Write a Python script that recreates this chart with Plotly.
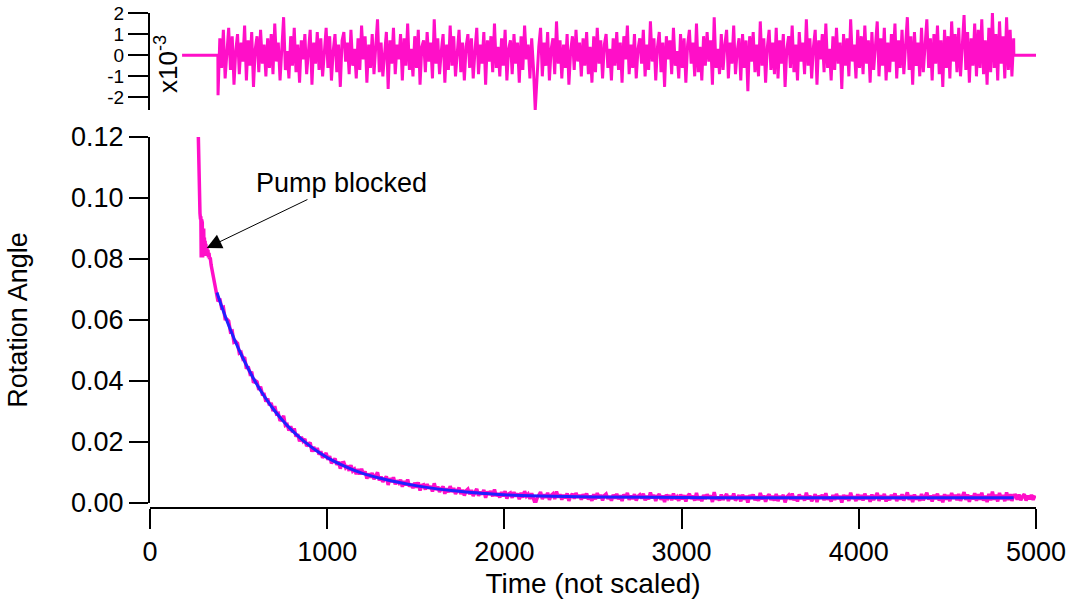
import numpy as np
import plotly.graph_objects as go

# ---------------- data ----------------
# raw signal before the fit window (pump blocked transient)
pre_x = [271, 273, 276, 279, 282, 285, 287, 289, 291, 293, 295, 297, 299, 301, 303,
         305, 307, 309, 311, 313, 315, 318, 321, 324, 327, 330, 333, 336,
         340, 345, 350, 355, 360, 365, 370, 375]
pre_y = [0.125, 0.115, 0.105, 0.099, 0.095, 0.093, 0.094, 0.0805, 0.093, 0.081, 0.092,
         0.0805, 0.089, 0.081, 0.090, 0.0815, 0.087, 0.081, 0.086, 0.082, 0.085,
         0.0815, 0.084, 0.081, 0.083, 0.0805, 0.082, 0.080,
         0.0805, 0.078, 0.0765, 0.0755, 0.074, 0.0725, 0.0715, 0.070]

# fitted decay curve (blue)
fit_x = [378, 400, 450, 500, 550, 600, 650, 700, 750, 800, 850, 900, 950, 1000, 1100, 1200,
         1300, 1400, 1500, 1600, 1700, 1800, 1900, 2000, 2200, 2500, 3000, 3500, 4874]
fit_y = [0.0690, 0.0652, 0.0574, 0.0505, 0.0445, 0.0392, 0.0346, 0.0305, 0.0270, 0.0239,
         0.0212, 0.0188, 0.0167, 0.0149, 0.0120, 0.0097, 0.0081, 0.0068, 0.0057, 0.0048,
         0.0041, 0.0035, 0.0031, 0.0027, 0.0023, 0.0020, 0.0018, 0.0017, 0.0017]

# residuals (units of 1e-3), one every 10 time units starting at 384
res_start = 384
res_step = 10
resid = [
    -1.9, 0.8, -0.6, 1.2, -1.1, 0.4, 1.3, -0.7, 0.9, -1.4, 0.2, 1.0, -0.9, 0.6, -0.3,
    1.4, -1.2, 0.7, -0.5, 1.1, -1.5, 0.3, 0.9, -0.8, 1.2, -0.4, 0.5, -1.0, 0.8, -0.6,
    1.0, -0.9, 1.5, -0.3, 0.6, -1.2, 0.4, 1.8, -0.7, 0.2, -1.1, 0.9, -0.5, 1.3, -0.8,
    0.5, -1.3, 0.7, -0.2, 1.0, -0.9, 0.3, 1.2, -1.4, 0.6, -0.4, 1.1, -0.7, 0.8, -1.0,
    0.4, 1.3, -0.6, 0.9, -1.2, 0.2, 1.0, -0.8, 0.5, -1.5, 0.7, 1.1, -0.3, 0.6, -0.9,
    1.2, -0.5, 0.3, -1.1, 0.8, -0.7, 1.4, -0.2, 0.9, -1.3, 0.5, -0.6, 1.0, -0.9, 0.4,
    1.7, -0.8, 0.6, -1.0, 0.2, 1.1, -1.6, 0.7, -0.4, 1.3, -0.9, 0.5, -0.2, 1.0, -1.2,
    0.8, -0.5, 1.5, -0.7, 0.3, -1.0, 0.9, -0.6, 1.2, -1.4, 0.4, 0.7, -0.8, 1.1, -0.3,
    0.6, -1.1, 1.7, -0.4, 0.8, -0.9, 0.2, 1.0, -1.3, 0.5, -0.7, 1.4, -0.5, 0.9, -1.0,
    0.3, 1.2, -0.8, 0.6, -1.2, 0.4, 1.0, -0.6, 0.8, -1.1, 0.2, 1.3, -0.9, 0.5, -0.4,
    1.1, -1.4, 0.7, -0.3, 0.9, -0.8, 1.5, -0.6, 0.4, -1.0, 0.8, -0.5, 1.2, -1.2, 0.3,
    0.7, -0.9, 1.0, -0.4, 0.6, -1.3, 0.9, -0.7, 1.4, -0.2, 0.5, -1.1, 0.8, -0.6, -2.6,
    -0.8, 0.4, 1.3, -1.0, 0.6, -0.5, 1.1, -1.2, 0.3, 0.8, -0.9, 1.6, -0.4, 0.7, -1.1,
    0.5, -0.6, 1.0, -1.4, 0.2, 0.9, -0.7, 1.2, -0.3, 0.6, -1.0, 0.8, -0.5, 1.1, -0.9,
    0.4, -1.3, 0.9, -0.8, 1.3, -0.4, 0.7, -1.1, 0.5, 1.0, -0.6, 0.3, -1.2, 0.8, -0.5,
    1.1, -0.7, 0.6, -1.3, 0.9, -0.2, 1.4, -0.9, 0.5, -0.6, 1.0, -1.1, 0.3, 0.8, -0.4,
    1.2, -1.0, 0.5, -0.7, 1.6, -0.3, 0.8, -1.2, 0.4, 1.1, -0.8, 0.6, -1.5, 0.9, -0.2,
    0.7, -0.9, 1.3, -0.5, 0.2, -1.1, 1.0, -0.6, 0.8, -1.3, 0.5, 1.2, -0.4, 0.6, -1.0,
    1.5, -0.8, 0.4, -1.2, 0.9, -0.5, 1.1, -0.3, 0.7, -1.4, 1.8, -0.6, 0.3, -0.9, 1.0,
    -0.7, 0.5, 1.2, -1.1, 0.6, -0.4, 1.4, -0.9, 0.2, 0.8, -1.2, 1.0, -0.6, 0.7, -1.7,
    0.9, -0.3, 1.1, -0.8, 0.5, -1.0, 1.6, -0.5, 0.8, -1.3, 0.4, 1.2, -0.7, 0.6, -0.9,
    1.3, -1.1, 0.7, -0.4, 1.0, -1.5, 0.3, 0.9, -0.6, 1.4, -0.8, 0.5, -1.2, 1.1, -0.3,
    0.6, -0.9, 1.7, -0.5, 0.8, -1.1, 0.4, 1.2, -1.4, 0.7, -0.2, 1.0, -0.8, 1.5, -0.6,
    0.3, -1.2, 0.9, -0.7, 1.3, -0.4, 0.6, -1.6, 1.0, -0.5, 0.8, -1.0, 1.7, -0.3, 0.5,
    -1.1, 1.2, -0.6, 0.9, -0.9, 1.4, -0.4, 0.7, -1.3, 1.1, -0.7, 0.4, 1.6, -1.0, 0.8,
    -0.5, 1.3, -1.2, 0.6, -0.8, 1.0, -0.3, 1.5, -1.1, 0.7, -0.6, 1.2, -0.9, 0.4, 1.8,
    -0.7, 0.9, -1.4, 1.1, -0.5, 0.6, -1.0, 1.3, -0.8, 0.5, 1.7, -0.6, 0.8, -1.2, 1.0,
    -0.4, 1.4, -0.9, 0.7, -1.5, 1.2, -0.6, 0.9, -1.1, 1.6, -0.3, 1.0, -0.8, 1.3, -1.0,
    0.6, 1.9, -0.7, 1.1, -1.3, 0.8, -0.5, 1.5, -1.0, 1.2, -0.6, 1.7, -0.9, 0.7, -1.4,
    1.3, -0.8, 2.0, -0.6, 1.0, -1.2, 1.6, -0.4, 0.9, -1.1, 1.8, -0.7, 1.2, -1.0, 0.8,
]

# raw signal after the fit window (noise around the baseline, units of 1e-3)
tail_x0 = 4884
tail_resid = [0.9, -0.6, 1.1, -0.8, 0.5, 1.2, -0.9, 0.7, -0.5, 1.0, -0.7, 0.8]

# residual panel flat segments
res_flat_start = 181
res_flat_end = 5000

# axis ticks
x_ticks = [0, 1000, 2000, 3000, 4000, 5000]
y_ticks = [0.00, 0.02, 0.04, 0.06, 0.08, 0.10, 0.12]
y_ticklabels = ["0.00", "0.02", "0.04", "0.06", "0.08", "0.10", "0.12"]
r_ticks = [-2, -1, 0, 1, 2]
r_ticklabels = ["-2", "-1", "0", "1", "2"]

# ---------------- build series ----------------
res_x = res_start + res_step * np.arange(len(resid))
res_v = np.array(resid)
fit_at_res = np.interp(res_x, fit_x, fit_y)
data_mid = fit_at_res + res_v * 1e-3
tail_x = tail_x0 + res_step * np.arange(len(tail_resid))
tail_y = fit_y[-1] + np.array(tail_resid) * 1e-3

main_x = list(pre_x) + list(res_x) + list(tail_x)
main_y = list(pre_y) + list(data_mid) + list(tail_y)

top_x = [res_flat_start, res_start - 1] + list(res_x) + [res_x[-1] + 1, res_flat_end]
top_y = [0, 0] + list(res_v) + [0, 0]

PINK = "#ff0fc8"
BLUE = "#2020ff"
FONT = "Liberation Sans, Arial, sans-serif"

fig = go.Figure()
fig.add_trace(go.Scatter(x=main_x, y=main_y, mode="lines",
                         line=dict(color=PINK, width=3.5), xaxis="x", yaxis="y",
                         showlegend=False, hoverinfo="skip"))
fig.add_trace(go.Scatter(x=fit_x, y=fit_y, mode="lines", line_shape="spline",
                         line=dict(color=BLUE, width=3), xaxis="x", yaxis="y",
                         showlegend=False, hoverinfo="skip"))
fig.add_trace(go.Scatter(x=top_x, y=top_y, mode="lines",
                         line=dict(color=PINK, width=3), xaxis="x", yaxis="y2",
                         showlegend=False, hoverinfo="skip"))

axis_common = dict(showgrid=False, zeroline=False, showline=True, linecolor="black",
                   linewidth=2, ticks="outside", tickcolor="black", tickwidth=2,
                   automargin=False)

fig.update_layout(
    width=1074, height=607,
    margin=dict(l=150, r=38, t=10, b=99),
    paper_bgcolor="white", plot_bgcolor="white",
    font=dict(family=FONT, color="black", size=27),
    xaxis=dict(range=[0, 5000], tickvals=x_ticks, ticklen=20,
               anchor="free", position=0,
               title=dict(text="Time (not scaled)", font=dict(size=28), standoff=6),
               tickfont=dict(size=27), **axis_common),
    yaxis=dict(range=[0, 0.12], domain=[0.01, 0.745], anchor="x",
               tickvals=y_ticks, ticktext=y_ticklabels, ticklen=19,
               title=dict(text="Rotation Angle", font=dict(size=27), standoff=36),
               tickfont=dict(size=27), **axis_common),
    yaxis2=dict(range=[-2.6, 2.0], domain=[0.799, 0.994], anchor="x",
                tickvals=r_ticks, ticktext=r_ticklabels, ticklen=20,
                tickfont=dict(size=19), **axis_common),
)

# "x10^-3" multiplier label of the residual panel
fig.add_annotation(xref="paper", yref="paper", x=0.0193, y=0.892,
                   xanchor="center", yanchor="middle",
                   text="x10<sup>-3</sup>", textangle=-90, showarrow=False,
                   font=dict(size=26, family=FONT, color="black"))

# arrow to the pump-blocked feature, with its label
fig.add_annotation(x=320, y=0.0836, xref="x", yref="y", text="Pump blocked",
                   showarrow=True, ax=135, ay=-65, axref="pixel", ayref="pixel",
                   arrowhead=2, arrowsize=3, arrowwidth=1, arrowcolor="black",
                   font=dict(size=27, family=FONT, color="black"))

fig.write_html("out.html", config={"displayModeBar": False},
               post_script="document.body.style.margin='0px';")
